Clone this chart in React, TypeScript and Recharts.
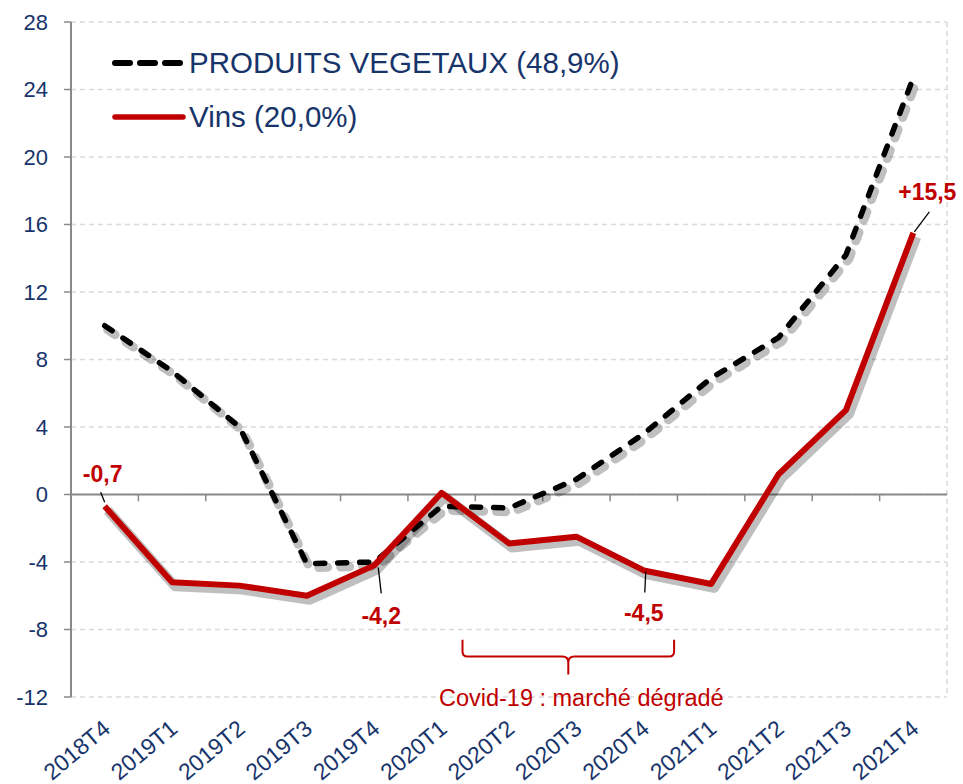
import React from 'react';
import {
  LineChart,
  Line,
  XAxis,
  YAxis,
  CartesianGrid,
  ReferenceLine,
  ReferenceArea,
  Legend,
  LabelList,
} from 'recharts';

// ---------- data ----------
const categories = [
  '2018T4', '2019T1', '2019T2', '2019T3', '2019T4', '2020T1', '2020T2',
  '2020T3', '2020T4', '2021T1', '2021T2', '2021T3', '2021T4',
];
const produitsVegetaux = [10.0, 7.3, 4.0, -4.1, -4.0, -0.7, -0.8, 0.9, 3.6, 6.9, 9.3, 14.2, 24.7];
const vins = [-0.7, -5.2, -5.4, -6.0, -4.2, 0.1, -2.9, -2.5, -4.5, -5.3, 1.2, 5.0, 15.5];
const vinsLabels = ['-0,7', null, null, null, '-4,2', null, null, null, '-4,5', null, null, null, '+15,5'];
const seriesNames = ['PRODUITS VEGETAUX (48,9%)', 'Vins (20,0%)'];
const yTicks = [-12, -8, -4, 0, 4, 8, 12, 16, 20, 24, 28];
const bandEdges = [0, 1, 2, 3, 4, 5, 6, 7, 8, 9, 10, 11, 12, 13];
const bandCenters = categories.map((_, i) => i + 0.5);
const innerEdges = bandEdges.slice(1, -1);
const covidText = 'Covid-19 : marché dégradé';
const covidSpan = [5.81, 8.95];
const covidBracket = [-9.6, -8.6];

const data = categories.map((c, i) => ({
  cat: c,
  idx: i + 0.5,
  pv: produitsVegetaux[i],
  vins: vins[i],
  lbl: vinsLabels[i],
}));

// ---------- styles ----------
const FONT = '"Liberation Sans", Arial, sans-serif';
const NAVY = '#17346B';
const RED = '#C00000';
const AXIS_GRAY = '#898989';
const GRID_GRAY = '#D9D9D9';

const labelOffsets: Record<number, { l: number[]; t: number[] }> = {
  0: { l: [0, -4, -4, -14], t: [-2, -24] },
  4: { l: [4, 2, 7, 28], t: [7, 59] },
  8: { l: [2, 1, 1, 22], t: [0, 51] },
  12: { l: [1, -1, 16, -21], t: [14, -33] },
};

const VinsLabel = (props: any) => {
  const { x, y, value, index } = props;
  if (value == null || value === '') return null;
  const o = labelOffsets[index] || { l: [0, 0, 0, 0], t: [0, -10] };
  return (
    <g>
      <line
        x1={x + o.l[0]}
        y1={y + o.l[1]}
        x2={x + o.l[2]}
        y2={y + o.l[3]}
        stroke="#000"
        strokeWidth={1.3}
      />
      <text
        x={x + o.t[0]}
        y={y + o.t[1]}
        textAnchor="middle"
        fontFamily={FONT}
        fontWeight="bold"
        fontSize={23}
        fill={RED}
      >
        {value}
      </text>
    </g>
  );
};

const XTick = (props: any) => {
  const { x, y, payload } = props;
  const i = Math.round(payload.value - 0.5);
  return (
    <text
      transform={`translate(${x + 7},${y + 34}) rotate(-40)`}
      textAnchor="end"
      fontFamily={FONT}
      fontSize={23}
      fill={NAVY}
    >
      {categories[i]}
    </text>
  );
};

const BraceShape = (props: any) => {
  const { x, y, width, height } = props;
  const b = y + height;
  const cx = x + width / 2;
  const r = 5;
  const d = [
    `M ${x} ${y}`,
    `L ${x} ${b - r}`,
    `Q ${x} ${b} ${x + r} ${b}`,
    `L ${cx - 6} ${b}`,
    `Q ${cx} ${b} ${cx} ${b + 6}`,
    `L ${cx} ${b + 18}`,
    `M ${cx} ${b + 6}`,
    `Q ${cx} ${b} ${cx + 6} ${b}`,
    `L ${x + width - r} ${b}`,
    `Q ${x + width} ${b} ${x + width} ${b - r}`,
    `L ${x + width} ${y}`,
  ].join(' ');
  return (
    <g>
      <path d={d} fill="none" stroke={RED} strokeWidth={2} />
      <text
        x={cx + 13}
        y={b + 49}
        textAnchor="middle"
        fontFamily={FONT}
        fontSize={23.5}
        fill={RED}
      >
        {covidText}
      </text>
    </g>
  );
};

const LegendContent = (props: any) => {
  const { payload } = props;
  const items = (payload || []).filter((e: any) => seriesNames.includes(e.value));
  return (
    <div style={{ fontFamily: FONT, fontSize: 29.5, color: NAVY }}>
      {items.map((entry: any) => (
        <div
          key={entry.value}
          style={{ display: 'flex', alignItems: 'center', height: 54, whiteSpace: 'nowrap' }}
        >
          <svg width={82} height={14} style={{ marginRight: 1 }}>
            <line
              x1={9}
              x2={77}
              y1={7}
              y2={7}
              stroke={entry.color}
              strokeWidth={entry.dataKey === 'pv' ? 6 : 5.5}
              strokeDasharray={entry.dataKey === 'pv' ? '15 10' : undefined}
              strokeLinecap="round"
            />
          </svg>
          <span>{entry.value}</span>
        </div>
      ))}
    </div>
  );
};

export default function App() {
  return (
    <div style={{ width: 963, height: 784, background: '#fff', position: 'relative' }}>
      <style>{`
        body { margin: 0; }
        .shadowline path { transform: translate(3px, 4px); }
      `}</style>
      <LineChart
        width={963}
        height={784}
        data={data}
        margin={{ top: 22, right: 16, left: 0, bottom: 0 }}
      >
        <CartesianGrid
          xAxisId="edge"
          stroke={GRID_GRAY}
          strokeDasharray="5 4"
          strokeWidth={1.5}
        />
        <XAxis
          xAxisId="edge"
          type="number"
          domain={[0, 13]}
          ticks={bandEdges}
          orientation="top"
          height={0}
          tick={false}
          axisLine={false}
          tickLine={false}
          allowDataOverflow
        />
        <XAxis
          xAxisId="main"
          dataKey="idx"
          type="number"
          domain={[0, 13]}
          ticks={bandCenters}
          interval={0}
          height={87}
          tickSize={0}
          tickMargin={0}
          axisLine={false}
          tickLine={false}
          tick={<XTick />}
        />
        <YAxis
          domain={[-12, 28]}
          ticks={yTicks}
          interval={0}
          width={71}
          tickSize={7}
          tickMargin={16}
          axisLine={{ stroke: AXIS_GRAY, strokeWidth: 2 }}
          tickLine={{ stroke: AXIS_GRAY, strokeWidth: 1.5 }}
          tick={{ fontFamily: FONT, fontSize: 22, fill: NAVY }}
        />
        <ReferenceLine xAxisId="main" y={0} stroke={AXIS_GRAY} strokeWidth={2} />
        {innerEdges.map((e) => (
          <ReferenceLine
            key={e}
            xAxisId="main"
            segment={[{ x: e, y: 0 }, { x: e, y: -0.4 }]}
            stroke={AXIS_GRAY}
            strokeWidth={1.5}
          />
        ))}
        <ReferenceArea
          xAxisId="main"
          x1={covidSpan[0]}
          x2={covidSpan[1]}
          y1={covidBracket[0]}
          y2={covidBracket[1]}
          shape={<BraceShape />}
        />
        <Legend
          layout="vertical"
          align="center"
          verticalAlign="middle"
          wrapperStyle={{ left: 106, top: 36, width: 600 }}
          content={<LegendContent />}
        />
        {/* soft drop shadows */}
        <Line
          xAxisId="main"
          className="shadowline"
          type="linear"
          dataKey="pv"
          legendType="none"
          stroke="#000"
          strokeOpacity={0.25}
          strokeWidth={9}
          strokeDasharray="9 13"
          strokeLinecap="round"
          transform="translate(3,4)"
          dot={false}
          activeDot={false}
          isAnimationActive={false}
        />
        <Line
          xAxisId="main"
          className="shadowline"
          type="linear"
          dataKey="vins"
          legendType="none"
          stroke="#000"
          strokeOpacity={0.25}
          strokeWidth={10}
          strokeLinejoin="round"
          transform="translate(3,4)"
          dot={false}
          activeDot={false}
          isAnimationActive={false}
        />
        <Line
          xAxisId="main"
          type="linear"
          dataKey="pv"
          name={seriesNames[0]}
          stroke="#000"
          strokeWidth={5.5}
          strokeDasharray="9 13"
          strokeLinecap="round"
          dot={false}
          activeDot={false}
          isAnimationActive={false}
        />
        <Line
          xAxisId="main"
          type="linear"
          dataKey="vins"
          name={seriesNames[1]}
          stroke={RED}
          strokeWidth={6}
          strokeLinejoin="round"
          dot={false}
          activeDot={false}
          isAnimationActive={false}
        >
          <LabelList dataKey="lbl" content={<VinsLabel />} />
        </Line>
      </LineChart>
    </div>
  );
}
